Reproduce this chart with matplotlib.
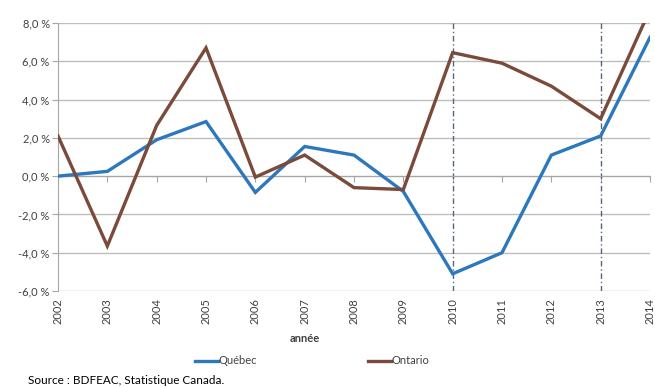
import matplotlib
matplotlib.use("Agg")
import matplotlib.pyplot as plt
from matplotlib.ticker import FuncFormatter

years = [2002, 2003, 2004, 2005, 2006, 2007, 2008, 2009, 2010, 2011, 2012, 2013, 2014]
quebec = [0.0, 0.25, 1.9, 2.85, -0.85, 1.55, 1.1, -0.8, -5.1, -4.0, 1.1, 2.1, 7.25]
ontario = [2.1, -3.65, 2.65, 6.7, -0.05, 1.1, -0.6, -0.7, 6.45, 5.9, 4.7, 3.0, 8.7]
marked_years = [2010, 2013]
y_ticks = [-6, -4, -2, 0, 2, 4, 6, 8]

plt.rcParams['font.family'] = ['Lato', 'DejaVu Sans']

fig = plt.figure(figsize=(6.55, 3.87), dpi=100)
ax = fig.add_axes([58 / 655, (387 - 291) / 387, (650 - 58) / 655, (291 - 23) / 387])

ax.plot(years, quebec, color='#2D78BC', lw=2.4, label='Québec', solid_joinstyle='miter', zorder=3)
ax.plot(years, ontario, color='#7A4A3A', lw=2.4, label='Ontario', solid_joinstyle='miter', zorder=3)

for yr in marked_years:
    ax.axvline(yr, color='#55667C', lw=1.0, dashes=(4, 2, 1, 2), zorder=2)

ax.set_xlim(years[0], years[-1])
ax.set_ylim(y_ticks[0], y_ticks[-1])
ax.set_yticks(y_ticks)
ax.yaxis.set_major_formatter(FuncFormatter(lambda v, p: f"{v:.1f} %".replace('.', ',')))
ax.grid(axis='y', color='#BDBDBD', lw=1.0)
ax.set_axisbelow(True)

for s in ['top', 'right']:
    ax.spines[s].set_visible(False)
ax.spines['left'].set_color('#A6A6A6')
ax.spines['bottom'].set_position(('data', 0))
ax.spines['bottom'].set_color('#A6A6A6')
ax.tick_params(axis='y', length=4, color='#A6A6A6', labelsize=8, labelcolor='#404040', pad=2)
ax.set_xticks(years)
ax.tick_params(axis='x', length=4, color='#A6A6A6', labelbottom=False)

sec = ax.secondary_xaxis('bottom')
sec.set_xticks(years)
sec.set_xticklabels([str(y) for y in years], rotation=90)
sec.tick_params(length=0, labelsize=8, labelcolor='#404040', pad=5)
sec.spines['bottom'].set_visible(False)

fig.text(305 / 655, 1 - 339 / 387, 'année', ha='center', va='center',
         fontsize=8, fontweight='bold', color='#404040')

fig.legend(loc='center', bbox_to_anchor=(312 / 655, 1 - 361 / 387), ncol=2, frameon=False,
           fontsize=8, handlelength=2.1, handletextpad=0.0, columnspacing=10.0,
           labelcolor='#404040')

fig.text(28 / 655, 1 - 380 / 387, 'Source : BDFEAC, Statistique Canada.', ha='left', va='center',
         fontsize=8.5, color='black')

fig.savefig('out.png', dpi=100)
